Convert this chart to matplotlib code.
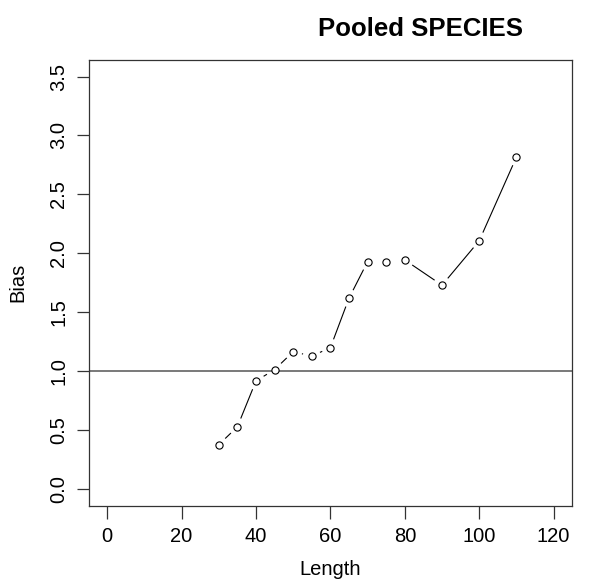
import matplotlib
matplotlib.use('Agg')
import matplotlib.pyplot as plt
import numpy as np

plt.rcParams['font.family'] = ['Liberation Sans', 'DejaVu Sans']

# bias by length class, all species pooled
length = [30, 35, 40, 45, 50, 55, 60, 65, 70, 75, 80, 90, 100, 110]
bias = [0.377, 0.529, 0.918, 1.014, 1.166, 1.129, 1.200, 1.620,
        1.930, 1.930, 1.944, 1.730, 2.107, 2.817]
x_ticks = [0, 20, 40, 60, 80, 100, 120]
y_ticks = [0.0, 0.5, 1.0, 1.5, 2.0, 2.5, 3.0, 3.5]


def draw_type_b(ax, x, y, gap_px=9.0, **kw):
    # lines between points with a gap around each point, like R type="b"
    disp = ax.transData.transform(np.column_stack([x, y]))
    inv = ax.transData.inverted()
    for i in range(len(x) - 1):
        p0, p1 = disp[i], disp[i + 1]
        d = np.hypot(*(p1 - p0))
        if d <= 2 * gap_px:
            continue
        u = (p1 - p0) / d
        a = inv.transform(p0 + u * gap_px)
        b = inv.transform(p1 - u * gap_px)
        ax.plot([a[0], b[0]], [a[1], b[1]], **kw)


fig = plt.figure(figsize=(5.92, 5.85), dpi=100)
ax = fig.add_axes([0.1508, 0.1356, 0.8146, 0.7618])

ax.set_xlim(-4.8, 124.8)
ax.set_ylim(-0.14, 3.64)

ax.plot(length, bias, linestyle='none', marker='o', markersize=5.2,
        markerfacecolor='white', markeredgecolor='black', markeredgewidth=0.8, zorder=3)
draw_type_b(ax, length, bias, gap_px=9.5, color='black', linewidth=0.8)

ax.axhline(1.0, color='#555555', linewidth=1.1)

ax.set_xticks(x_ticks)
ax.set_xticklabels([str(v) for v in x_ticks])
ax.set_yticks(y_ticks)
ax.set_yticklabels(['%.1f' % v for v in y_ticks], rotation=90, va='center')
ax.tick_params(axis='both', direction='out', length=9, width=0.9,
               labelsize=14.5, color='#333333', pad=6)

for s in ax.spines.values():
    s.set_linewidth(0.9)
    s.set_color('#333333')

ax.set_xlabel('Length', fontsize=14.5)
ax.set_ylabel('Bias', fontsize=14.5)
ax.xaxis.set_label_coords(0.5, -0.121)
ax.yaxis.set_label_coords(-0.128, 0.5)

fig.text(0.711, 0.9385, 'Pooled SPECIES', fontsize=18.5, fontweight='bold',
         ha='center', va='baseline')

fig.savefig('out.png', dpi=100)
